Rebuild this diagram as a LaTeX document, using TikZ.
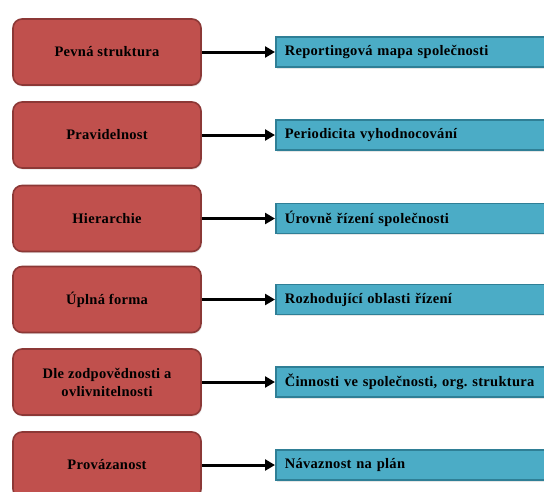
\documentclass[tikz,border=0pt]{standalone}
\usepackage{fontspec}
\setmainfont{Liberation Serif}[LetterSpace=2]
\usetikzlibrary{arrows.meta,shadows}
\definecolor{redfill}{HTML}{C0504D}
\definecolor{redline}{HTML}{8C3836}
\definecolor{bluefill}{HTML}{4BACC6}
\definecolor{blueline}{HTML}{2F7F96}
\tikzset{
  redbox/.style={draw=redline, fill=redfill, line width=1.6pt, rounded corners=9pt,
    minimum width=188pt, minimum height=66pt, align=center,
    font=\fontsize{14.5}{18}\selectfont\bfseries\frenchspacing,
    drop shadow={opacity=0.2, shadow xshift=1pt, shadow yshift=-1.5pt}},
  bluebox/.style={draw=blueline, fill=bluefill, line width=1.6pt, anchor=west,
    minimum width=290pt, minimum height=30pt, text width=272pt, inner xsep=9pt, align=left,
    font=\fontsize{14.5}{18}\selectfont\bfseries\frenchspacing,
    drop shadow={opacity=0.2, shadow xshift=1pt, shadow yshift=-1.5pt}},
  conn/.style={line width=3pt, -{Triangle[length=10pt,width=11pt]}}
}
\begin{document}
\begin{tikzpicture}[x=1pt,y=-1pt]
\frenchspacing
\useasboundingbox (0,0) rectangle (544,491);
\clip (0,0) rectangle (544,491);
\node[redbox] (r1) at (107,52) {Pevná struktura};
\node[redbox] (r2) at (107,135) {Pravidelnost};
\node[redbox] (r3) at (107,218.5) {Hierarchie};
\node[redbox] (r4) at (107,299.5) {Úplná forma};
\node[redbox] (r5) at (107,382) {Dle zodpovědnosti a\\ovlivnitelnosti};
\node[redbox] (r6) at (107,465) {Provázanost};
\node[bluebox] (b1) at (275,52) {Reportingová mapa společnosti};
\node[bluebox] (b2) at (275,135) {Periodicita vyhodnocování};
\node[bluebox] (b3) at (275,218.5) {Úrovně řízení společnosti};
\node[bluebox] (b4) at (275,299.5) {Rozhodující oblasti řízení};
\node[bluebox] (b5) at (275,382) {Činnosti ve společnosti, org. struktura};
\node[bluebox] (b6) at (275,465) {Návaznost na plán};
\draw[conn] (r1.east) -- (b1.west);
\draw[conn] (r2.east) -- (b2.west);
\draw[conn] (r3.east) -- (b3.west);
\draw[conn] (r4.east) -- (b4.west);
\draw[conn] (r5.east) -- (b5.west);
\draw[conn] (r6.east) -- (b6.west);
\end{tikzpicture}
\end{document}
